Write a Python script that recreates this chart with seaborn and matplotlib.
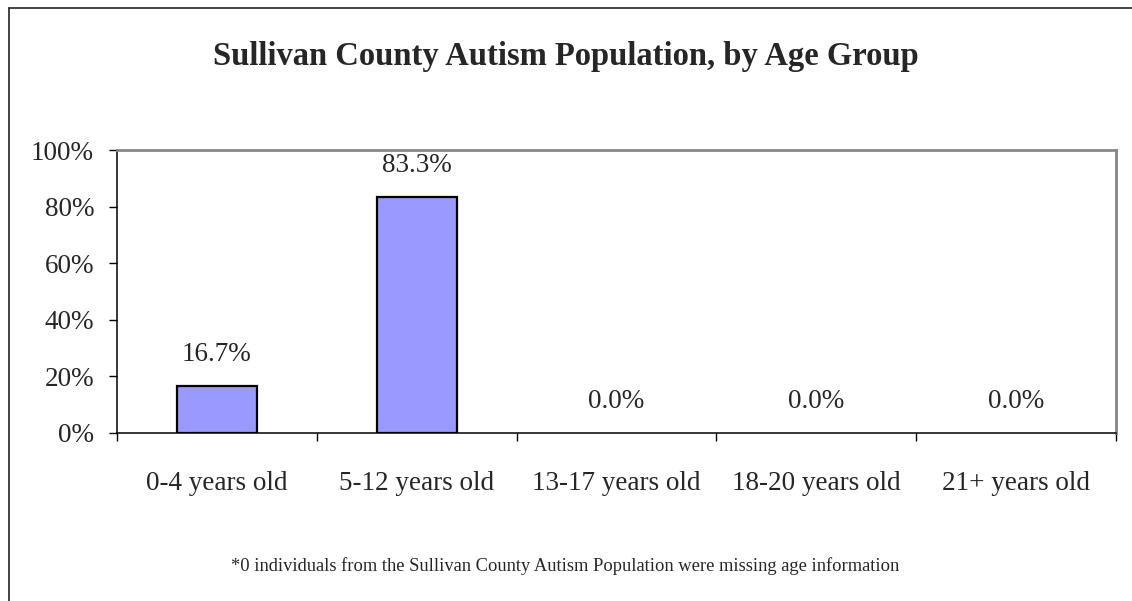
import numpy as np
import pandas as pd
import seaborn as sns
import matplotlib.pyplot as plt
from matplotlib.lines import Line2D
from matplotlib.ticker import FixedLocator

# data
age_groups = ['0-4 years old', '5-12 years old', '13-17 years old', '18-20 years old', '21+ years old']
percent = [16.7, 83.3, 0.0, 0.0, 0.0]
title = 'Sullivan County Autism Population, by Age Group'
footnote = '*0 individuals from the Sullivan County Autism Population were missing age information'

sns.set_style('white')
plt.rcParams['font.family'] = ['Liberation Serif', 'DejaVu Serif']

df = pd.DataFrame({'age_group': age_groups, 'percent': percent})

fig = plt.figure(figsize=(11.32, 6.01), dpi=100)
ax = fig.add_axes([117 / 1132, 1 - 433 / 601, (1116 - 117) / 1132, (433 - 150) / 601])

sns.barplot(data=df, x='age_group', y='percent', color='#9999FF', saturation=1,
            edgecolor='black', linewidth=1.6, width=0.4, ax=ax)

# empty bars should not leave an outline on the axis
for patch in ax.patches:
    if patch.get_height() == 0:
        patch.set_linewidth(0)

ax.set_xlim(-0.5, len(age_groups) - 0.5)
ax.set_ylim(0, 100)
ax.set_yticks(np.arange(0, 101, 20))
ax.set_yticklabels([f'{v}%' for v in range(0, 101, 20)])
ax.set_xlabel('')
ax.set_ylabel('')

# category boundaries get the tick marks, labels sit in the middle
ax.xaxis.set_minor_locator(FixedLocator(np.arange(-0.5, len(age_groups), 1.0)))
ax.tick_params(axis='x', which='major', length=0, pad=27, labelsize=19.5)
ax.tick_params(axis='x', which='minor', length=5.5, width=1, color='black', direction='out', bottom=True)
ax.tick_params(axis='y', length=5.5, width=1, color='black', direction='out', left=True, pad=11, labelsize=19.5)

for side in ['top', 'right']:
    ax.spines[side].set_color('#888888')
    ax.spines[side].set_linewidth(2)
for side in ['left', 'bottom']:
    ax.spines[side].set_color('black')
    ax.spines[side].set_linewidth(1.1)
ax.spines['bottom'].set_zorder(5)

for i, v in enumerate(percent):
    ax.annotate(f'{v:.1f}%', xy=(i, v), xytext=(0, 18), textcoords='offset points',
                ha='center', va='baseline', fontsize=19.5)

fig.text(0.5, 1 - 57 / 601, title, ha='center', va='center', fontsize=23.5, fontweight='bold')
fig.text(565 / 1132, 1 - 566 / 601, footnote, ha='center', va='center', fontsize=13.3)

# outer chart frame (only left and top edges show in the crop)
fig.add_artist(Line2D([8.5 / 1132, 8.5 / 1132], [0, 1 - 8 / 601], transform=fig.transFigure, color='#222222', lw=1.2))
fig.add_artist(Line2D([8.5 / 1132, 1], [1 - 8 / 601, 1 - 8 / 601], transform=fig.transFigure, color='#222222', lw=1.2))

fig.savefig('out.png', dpi=100)
